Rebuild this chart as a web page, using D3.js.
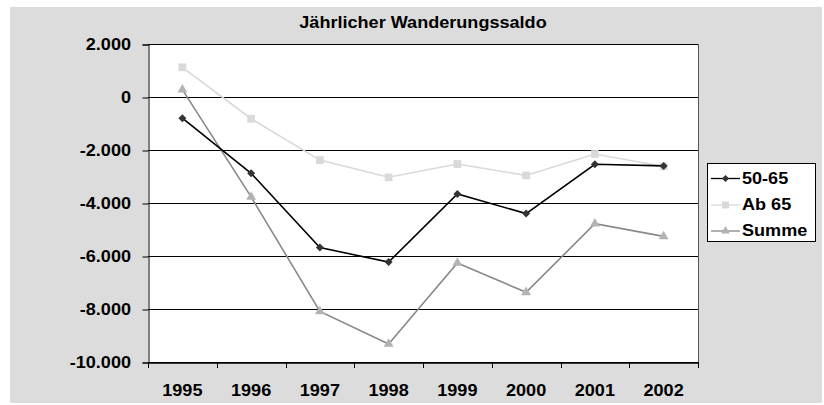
<!DOCTYPE html>
<html><head><meta charset="utf-8">
<script src="https://cdn.jsdelivr.net/npm/d3@7"></script>
<style>
html,body{margin:0;padding:0;background:#fff;}
text{font-family:"Liberation Sans",Arial,sans-serif;font-weight:bold;fill:#000;}
</style></head>
<body>
<svg id="c" width="824" height="405"></svg>
<script>
const years = ["1995","1996","1997","1998","1999","2000","2001","2002"];
const s5065 = [-800,-2880,-5680,-6230,-3660,-4400,-2540,-2600];
const sAb65 = [1120,-820,-2380,-3030,-2530,-2960,-2150,-2620];
const sSumme = [280,-3770,-8090,-9320,-6260,-7370,-4780,-5260];
const yTicks = [2000,0,-2000,-4000,-6000,-8000,-10000];
const seriesNames = ["50-65","Ab 65","Summe"];
const title = "Jährlicher Wanderungssaldo";

const svg = d3.select("#c");
const L=148,R=698,T=44,B=362;
const FS=16, SX=1.13;
const loc = d3.formatLocale({decimal:",",thousands:".",grouping:[3],currency:["","€"],minus:"-"});
const fmt = loc.format(",");

svg.append("rect").attr("x",10).attr("y",7).attr("width",812).attr("height",396).attr("fill","#dcdcdc");
svg.append("rect").attr("x",L).attr("y",T).attr("width",R-L).attr("height",B-T).attr("fill","#fff");

const x = d3.scaleBand().domain(years).range([L,R]);
const y = d3.scaleLinear().domain([-10000,2000]).range([B,T]);
const cx = d=>x(d)+x.bandwidth()/2;

function txt(g,xx,yy,s,anchor){
  return g.append("text").attr("transform",`translate(${xx},${yy}) scale(${SX},1)`)
    .attr("text-anchor",anchor).attr("dominant-baseline","central")
    .attr("font-size",FS).text(s);
}

// gridlines
svg.append("g").selectAll("line").data(yTicks).join("line")
  .attr("x1",L).attr("x2",R).attr("y1",d=>Math.round(y(d))+0.5).attr("y2",d=>Math.round(y(d))+0.5)
  .attr("stroke","#000").attr("stroke-width",1);
// right border
svg.append("line").attr("x1",R+0.5).attr("x2",R+0.5).attr("y1",T).attr("y2",B).attr("stroke","#555");

// y axis
const ya = svg.append("g").attr("transform",`translate(${L+0.5},0.5)`)
  .call(d3.axisLeft(y).tickValues(yTicks).tickSize(6).tickFormat(""));
ya.select(".domain").attr("stroke","#000");
ya.selectAll(".tick line").attr("stroke","#000");
yTicks.forEach(t=>txt(svg,131,y(t)+0.5,fmt(t),"end"));

// x axis
const xa = svg.append("g").attr("transform",`translate(0.5,${B+0.5})`)
  .call(d3.axisBottom(x).tickSize(0).tickFormat(""));
xa.select(".domain").attr("stroke","#000").attr("stroke-width",1.5);
const bounds = years.map(d=>x(d)).concat([R]);
svg.append("g").selectAll("line").data(bounds).join("line")
  .attr("x1",d=>Math.round(d)+0.5).attr("x2",d=>Math.round(d)+0.5).attr("y1",B).attr("y2",B+6).attr("stroke","#000");
years.forEach(yr=>txt(svg,cx(yr),391,yr,"middle"));

// title
txt(svg,(L+R)/2,23,title,"middle");

// series
const styles = [
  {data:s5065,line:"#000",fill:"#333",sym:d3.symbolSquare,size:32,rot:45},
  {data:sAb65,line:"#d9d9d9",fill:"#d9d9d9",sym:d3.symbolSquare,size:60,rot:0},
  {data:sSumme,line:"#888",fill:"#b3b3b3",sym:d3.symbolTriangle,size:42,rot:0}
];
const lineGen = d3.line().x((d,i)=>cx(years[i])).y(d=>y(d));
[1,2,0].forEach(k=>{
  const s=styles[k];
  svg.append("path").attr("d",lineGen(s.data)).attr("fill","none").attr("stroke",s.line).attr("stroke-width",1.6);
  svg.append("g").selectAll("path").data(s.data).join("path")
    .attr("transform",(d,i)=>`translate(${cx(years[i])},${y(d)}) rotate(${s.rot})`)
    .attr("d",d3.symbol().type(s.sym).size(s.size)).attr("fill",s.fill);
});

// legend
svg.append("rect").attr("x",707.5).attr("y",163.5).attr("width",108).attr("height",78).attr("fill","#fff").attr("stroke","#000");
const ly=[178.5,205,231];
styles.forEach((s,i)=>{
  svg.append("line").attr("x1",711).attr("x2",740).attr("y1",ly[i]).attr("y2",ly[i]).attr("stroke",s.line).attr("stroke-width",1.3);
  svg.append("path").attr("transform",`translate(725.5,${ly[i]}) rotate(${s.rot})`).attr("d",d3.symbol().type(s.sym).size(s.size*0.8)).attr("fill",s.fill);
  txt(svg,742,ly[i],seriesNames[i],"start");
});
</script>
</body></html>
